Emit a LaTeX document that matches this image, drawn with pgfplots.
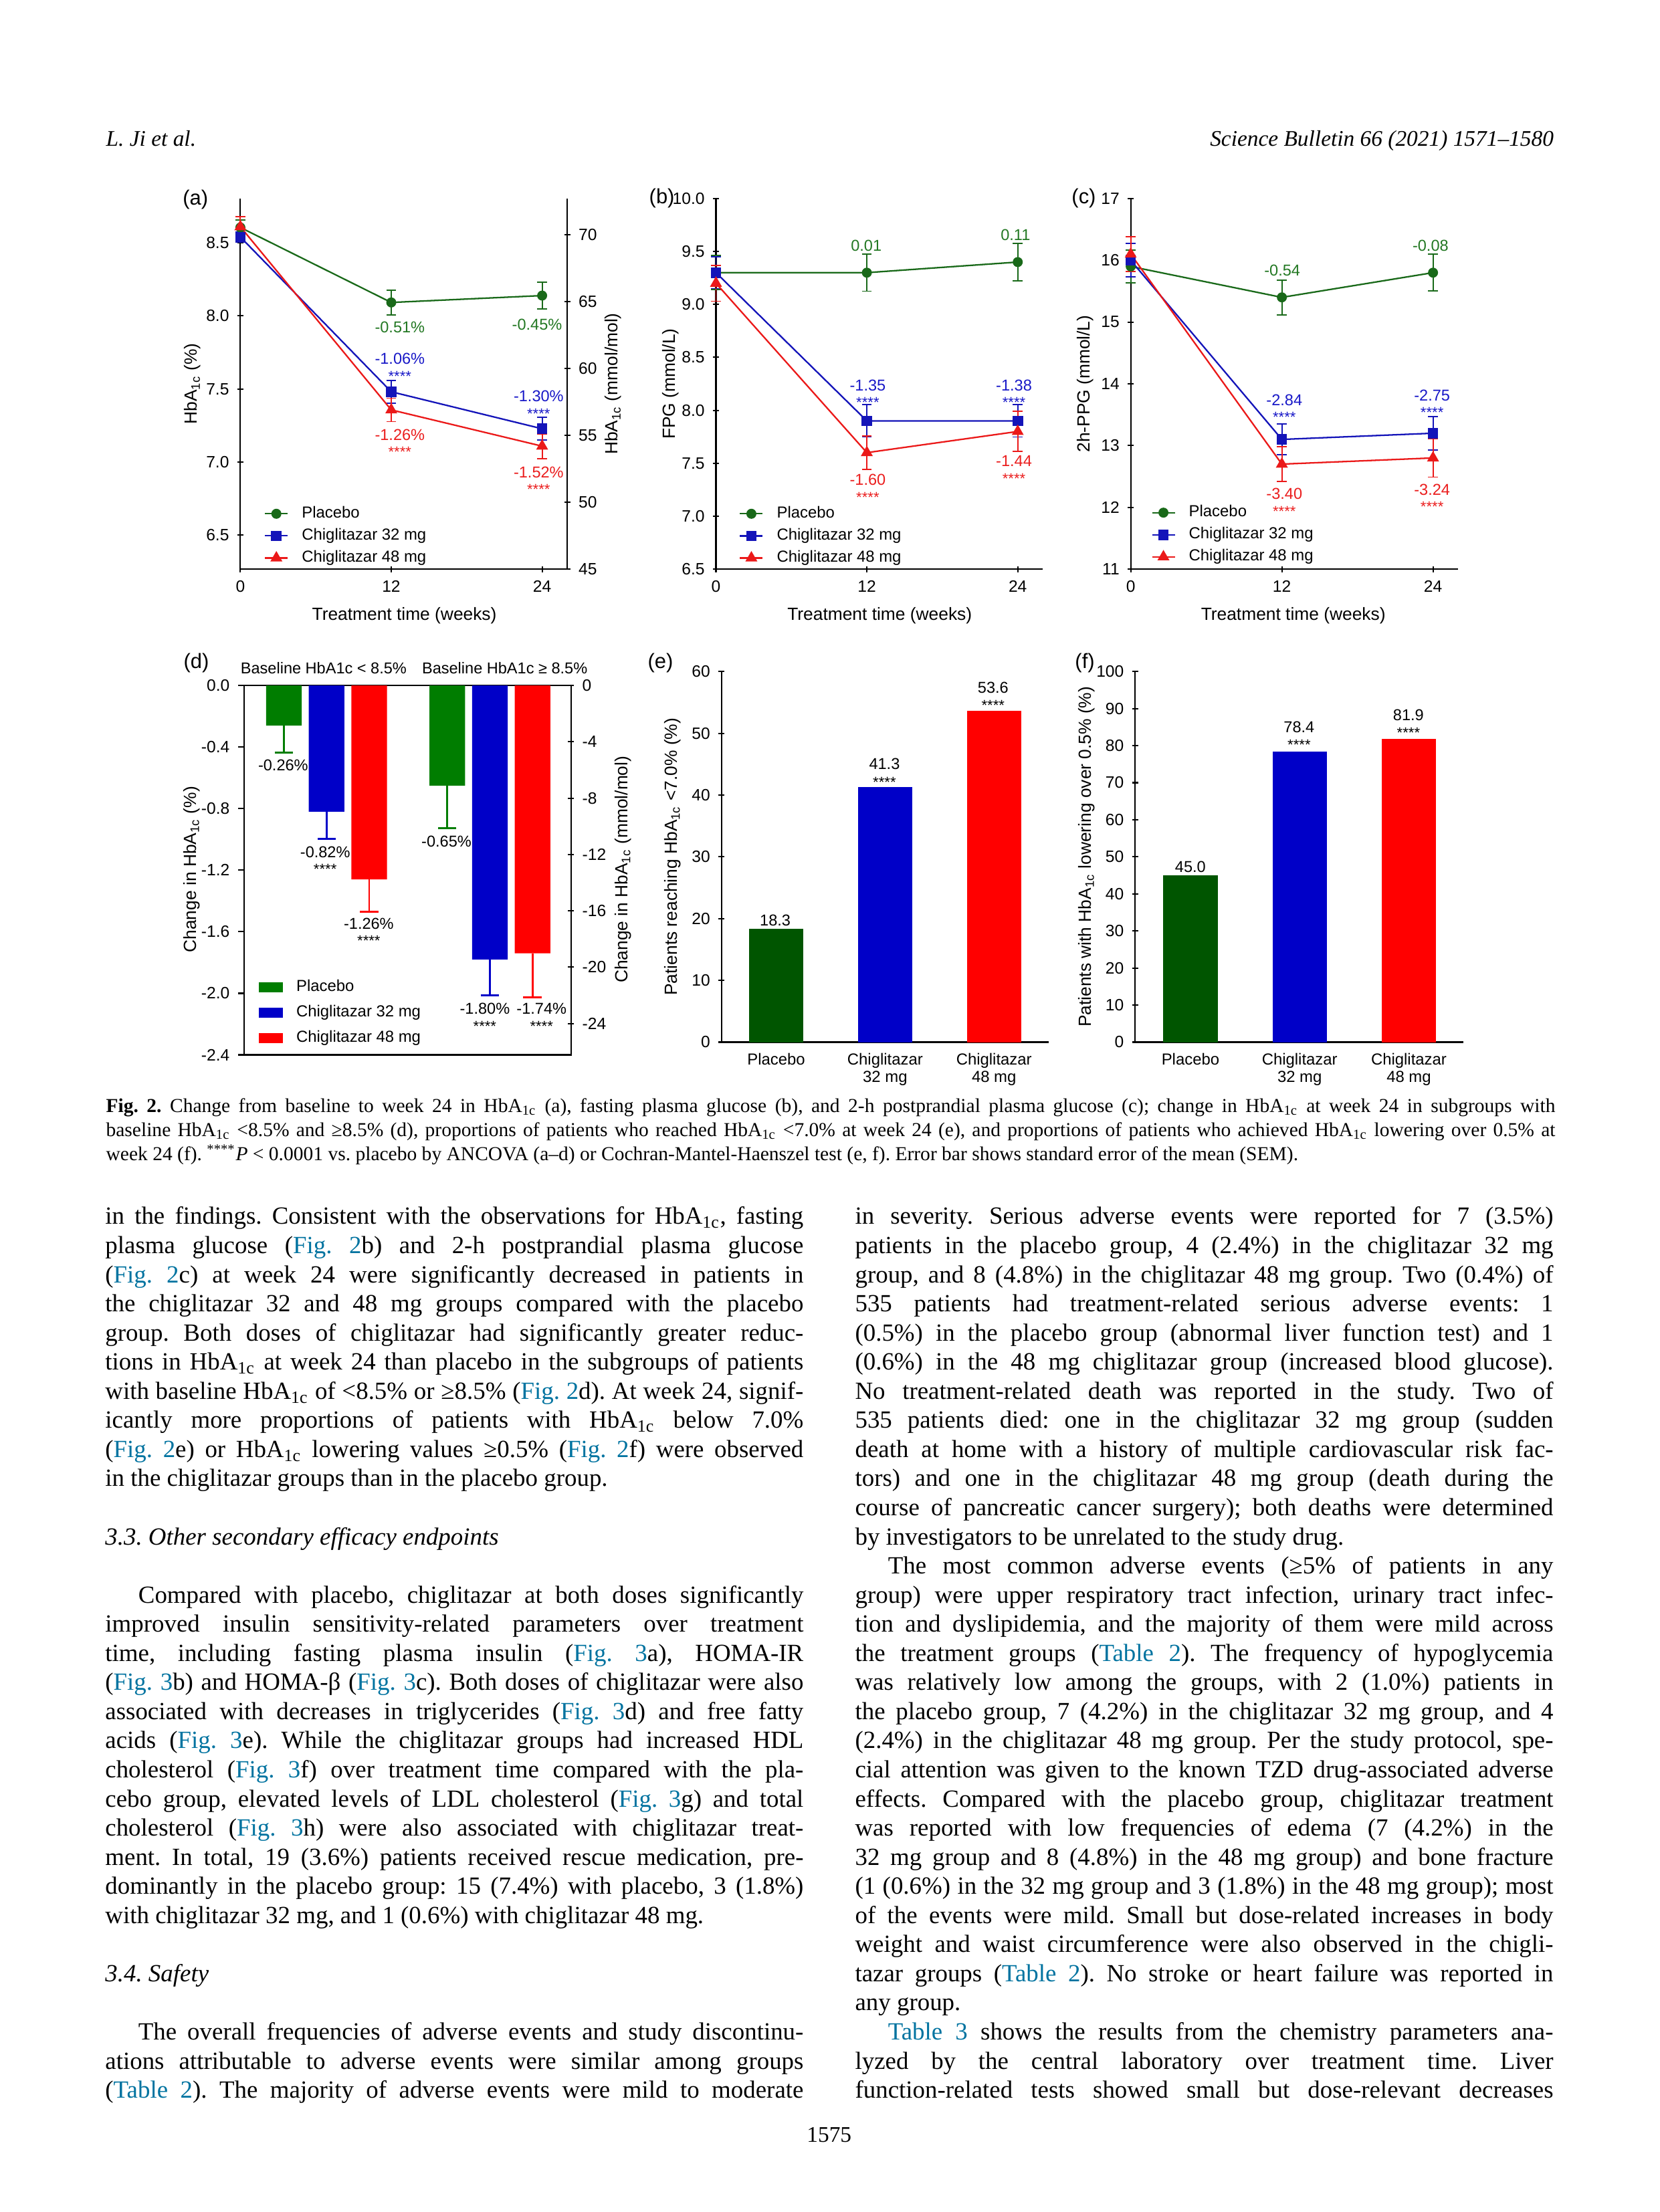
\documentclass[border=0pt]{standalone}
\usepackage{fontspec}
\setmainfont{Liberation Sans}
\newfontfamily\bodyfont{Liberation Serif}
\usepackage{pgfplots}
\pgfplotsset{compat=1.18}

\definecolor{lgreen}{RGB}{25,105,25}
\definecolor{lblue}{RGB}{20,20,185}
\definecolor{lred}{RGB}{235,25,25}
\definecolor{tgreen}{RGB}{35,120,35}
\definecolor{tblue}{RGB}{25,25,200}
\definecolor{tred}{RGB}{235,30,30}
\definecolor{dgreen}{RGB}{0,125,0}
\definecolor{bgreen}{RGB}{0,85,0}
\definecolor{bblue}{RGB}{0,0,200}
\definecolor{bred}{RGB}{255,0,0}
\definecolor{linkc}{RGB}{0,115,160}

\newcommand\ann{\fontsize{6.7}{8}\selectfont}
\newcommand\stars{\fontsize{6.3}{7}\selectfont}
\newcommand\albl{\fontsize{7.5}{9}\selectfont}
\newcommand\plet{\fontsize{8.8}{10}\selectfont}
\newcommand\bodyset{\bodyfont\fontsize{10.5}{12.6}\selectfont\frenchspacing\spaceskip=0.25em plus 2em minus 0.1em\relax}
\newcommand\capset{\bodyfont\fontsize{8.4}{10}\selectfont\frenchspacing\spaceskip=0.25em plus 2em minus 0.1em\relax}
\newcommand\lk[1]{\textcolor{linkc}{#1}}
\newcommand\LJ[2]{\node[anchor=base west,inner sep=0pt] at (156.8,#1) {\bodyset\makebox[10.44cm][s]{#2}};}
\newcommand\LI[2]{\node[anchor=base west,inner sep=0pt] at (206.3,#1) {\bodyset\makebox[9.945cm][s]{#2}};}
\newcommand\LL[2]{\node[anchor=base west,inner sep=0pt] at (156.8,#1) {\bodyset #2};}
\newcommand\LH[2]{\node[anchor=base west,inner sep=0pt] at (156.8,#1) {\bodyset\itshape #2};}
\newcommand\RJ[2]{\node[anchor=base west,inner sep=0pt] at (1278.6,#1) {\bodyset\makebox[10.44cm][s]{#2}};}
\newcommand\RI[2]{\node[anchor=base west,inner sep=0pt] at (1327.8,#1) {\bodyset\makebox[9.948cm][s]{#2}};}
\newcommand\RL[2]{\node[anchor=base west,inner sep=0pt] at (1278.6,#1) {\bodyset #2};}
\newcommand\CJ[2]{\node[anchor=base west,inner sep=0pt] at (158,#1) {\capset\makebox[21.67cm][s]{#2}};}
\newcommand\CL[2]{\node[anchor=base west,inner sep=0pt] at (158,#1) {\capset #2};}

\pgfplotsset{
  noarrow/.style={axis line style={-}, every outer x axis line/.append style={-}, every outer y axis line/.append style={-}, every inner x axis line/.append style={-}, every inner y axis line/.append style={-}},
  basic/.style={scale only axis, axis line style={-,line width=0.6pt,black}, tick style={line width=0.6pt,black}, tick align=outside, major tick length=0.09cm, ticklabel style={font=\fontsize{7}{8}\selectfont}, /pgf/number format/assume math mode=true, clip=false, legend cell align=left, legend style={draw=none, fill=none, anchor=north west, inner sep=0pt, outer sep=0pt, font=\fontsize{6.8}{8}\selectfont, column sep=0.2cm, nodes={inner sep=0pt, text height=5pt, text depth=1.5pt}}},
  lineax/.style={basic, xmin=0, xmax=26, xtick={0,12,24}, axis x line=bottom, axis y line=left, noarrow, legend style={row sep=2.9pt}, legend image code/.code={\draw[mark repeat=2,mark phase=2,##1] plot coordinates {(0cm,0cm) (0.17cm,0cm) (0.34cm,0cm)};}},
  rax/.style={basic, xmin=0, xmax=26, axis x line=none, axis y line=right, noarrow},
  yfix/.style={yticklabel style={/pgf/number format/fixed,/pgf/number format/fixed zerofill,/pgf/number format/precision=1}},
  pl/.style 2 args={color=#1, line width=0.65pt, mark=#2, mark options={solid,fill=#1}, error bars/y dir=both, error bars/y explicit, error bars/error bar style={line width=0.55pt,#1}, error bars/error mark options={line width=0.55pt,#1,rotate=90,mark size=2.1pt}},
  pG/.style={pl={lgreen}{*}, mark size=1.8pt},
  pB/.style={pl={lblue}{square*}, mark size=1.9pt},
  pR/.style={pl={lred}{triangle*}, mark size=2.3pt},
  ebar/.style 2 args={ybar, bar width=#2, bar shift=0, fill=#1, draw=none, legend image code/.code={\fill[#1] (0cm,-0.0735cm) rectangle (0.363cm,0.0735cm);}, error bars/y dir=minus, error bars/y explicit, error bars/error bar style={#1,line width=0.8pt}, error bars/error mark options={#1,line width=0.8pt,rotate=90,mark size=3.9pt}},
  pbar/.style 2 args={ybar, bar width=#2, bar shift=0, fill=#1, draw=none},
}

\begin{document}
\begin{tikzpicture}
\fill[white] (0,0) rectangle (24.81,-33.08);
\path[use as bounding box] (0,0) rectangle (24.81,-33.08);

% ---------------- (a)
\begin{axis}[lineax, at={(3.594cm,-8.511cm)}, anchor=south west, width=4.888cm, height=5.542cm, ymin=6.2677, ymax=8.803, ytick={6.5,7,7.5,8,8.5}, yfix, legend style={at={(0.073,0.170)}}, noarrow]
\addplot[pG] coordinates {(0,8.605) +- (0,0.05) (12,8.092) +- (0,0.084) (24,8.139) +- (0,0.091)};
\addlegendentry{Placebo}
\addplot[pB] coordinates {(0,8.54) +- (0,0.035) (12,7.481) +- (0,0.078) (24,7.228) +- (0,0.078)};
\addlegendentry{Chiglitazar 32 mg}
\addplot[pR] coordinates {(0,8.61) +- (0,0.07) (12,7.357) +- (0,0.08) (24,7.109) +- (0,0.085)};
\addlegendentry{Chiglitazar 48 mg}
\end{axis}
\begin{axis}[rax, at={(3.594cm,-8.511cm)}, anchor=south west, width=4.888cm, height=5.542cm, ymin=45, ymax=72.71, ytick={45,50,55,60,65,70}, noarrow]
\addplot[draw=none] coordinates {(0,50)};
\end{axis}

% ---------------- (b)
\begin{axis}[lineax, at={(10.705cm,-8.511cm)}, anchor=south west, width=4.888cm, height=5.542cm, ymin=6.5, ymax=10, ytick={6.5,7,7.5,8,8.5,9,9.5,10}, yfix, legend style={at={(0.0712,0.170)}}, noarrow]
\addplot[pG] coordinates {(0,9.3) +- (0,0.16) (12,9.3) +- (0,0.175) (24,9.4) +- (0,0.175)};
\addlegendentry{Placebo}
\addplot[pB] coordinates {(0,9.3) +- (0,0.15) (12,7.9) +- (0,0.152) (24,7.9) +- (0,0.152)};
\addlegendentry{Chiglitazar 32 mg}
\addplot[pR] coordinates {(0,9.2) +- (0,0.17) (12,7.6) +- (0,0.16) (24,7.8) +- (0,0.19)};
\addlegendentry{Chiglitazar 48 mg}
\end{axis}

% ---------------- (c)
\begin{axis}[lineax, at={(16.906cm,-8.511cm)}, anchor=south west, width=4.897cm, height=5.542cm, ymin=11, ymax=17, ytick={11,12,13,14,15,16,17}, legend style={at={(0.0629,0.173)}}, noarrow]
\addplot[pG] coordinates {(0,15.9) +- (0,0.27) (12,15.4) +- (0,0.28) (24,15.8) +- (0,0.3)};
\addlegendentry{Placebo}
\addplot[pB] coordinates {(0,16.0) +- (0,0.27) (12,13.1) +- (0,0.25) (24,13.2) +- (0,0.27)};
\addlegendentry{Chiglitazar 32 mg}
\addplot[pR] coordinates {(0,16.1) +- (0,0.28) (12,12.7) +- (0,0.28) (24,12.8) +- (0,0.31)};
\addlegendentry{Chiglitazar 48 mg}
\end{axis}

% ---------------- (d)
\begin{axis}[basic, at={(3.648cm,-15.775cm)}, anchor=south west, width=4.89cm, height=5.523cm, xmin=0.063, xmax=7.738, ymin=-2.4, ymax=0, xtick=\empty, ytick={0,-0.4,-0.8,-1.2,-1.6,-2,-2.4}, ytick pos=left, yfix, legend style={at={(0.045,0.204)}, row sep=4.3pt}]
\addplot[ebar={dgreen}{0.837}] coordinates {(1,-0.26) +- (0,0.175) (4.834,-0.65) +- (0,0.277)};
\addlegendentry{Placebo}
\addplot[ebar={bblue}{0.837}] coordinates {(2,-0.82) +- (0,0.177) (5.834,-1.78) +- (0,0.234)};
\addlegendentry{Chiglitazar 32 mg}
\addplot[ebar={bred}{0.837}] coordinates {(3,-1.26) +- (0,0.209) (6.834,-1.74) +- (0,0.287)};
\addlegendentry{Chiglitazar 48 mg}
\end{axis}
\begin{axis}[basic, at={(3.648cm,-15.775cm)}, anchor=south west, width=4.89cm, height=5.523cm, xmin=0.063, xmax=7.738, axis x line=none, axis y line=right, noarrow, ymin=-26.23, ymax=0, ytick={0,-4,-8,-12,-16,-20,-24}]
\addplot[draw=none] coordinates {(1,-1)};
\end{axis}

% ---------------- (e)
\begin{axis}[basic, at={(10.786cm,-15.585cm)}, anchor=south west, width=4.897cm, height=5.543cm, xmin=0.497, xmax=3.504, ymin=0, ymax=60, axis x line=bottom, axis y line=left, noarrow, ytick={0,10,20,30,40,50,60}, xtick={1,2,3}, xticklabels={Placebo,{Chiglitazar\\32 mg},{Chiglitazar\\48 mg}}, xtick style={draw=none}, xticklabel style={align=center, font=\fontsize{6.8}{7.4}\selectfont}]
\addplot[pbar={bgreen}{0.496}] coordinates {(1,18.3)};
\addplot[pbar={bblue}{0.496}] coordinates {(2,41.3)};
\addplot[pbar={bred}{0.496}] coordinates {(3,53.6)};
\end{axis}

% ---------------- (f)
\begin{axis}[basic, at={(16.972cm,-15.585cm)}, anchor=south west, width=4.912cm, height=5.543cm, xmin=0.493, xmax=3.502, ymin=0, ymax=100, axis x line=bottom, axis y line=left, noarrow, ytick={0,10,20,30,40,50,60,70,80,90,100}, xtick={1,2,3}, xticklabels={Placebo,{Chiglitazar\\32 mg},{Chiglitazar\\48 mg}}, xtick style={draw=none}, xticklabel style={align=center, font=\fontsize{6.8}{7.4}\selectfont}]
\addplot[pbar={bgreen}{0.498}] coordinates {(1,45.0)};
\addplot[pbar={bblue}{0.498}] coordinates {(2,78.4)};
\addplot[pbar={bred}{0.498}] coordinates {(3,81.9)};
\end{axis}

\begin{scope}[x=0.01cm,y=-0.01cm]
% panel letters
\node[font=\plet] at (292.4,298.2) {(a)};
\node[font=\plet] at (990.2,296.9) {(b)};
\node[font=\plet] at (1621.4,296.9) {(c)};
\node[font=\plet] at (293.6,991.6) {(d)};
\node[font=\plet] at (988,991.6) {(e)};
\node[font=\plet] at (1623,991.6) {(f)};
% axis labels
\node[font=\albl,rotate=90] at (288,574.4) {HbA\textsubscript{1c} (\%)};
\node[font=\albl,rotate=90] at (917.4,574.4) {HbA\textsubscript{1c} (mmol/mol)};
\node[font=\albl] at (604.9,921.4) {Treatment time (weeks)};
\node[font=\albl,rotate=90] at (1003.6,574.4) {FPG (mmol/L)};
\node[font=\albl] at (1316,921.4) {Treatment time (weeks)};
\node[font=\albl,rotate=90] at (1623.2,574.4) {2h-PPG (mmol/L)};
\node[font=\albl] at (1934.8,921.4) {Treatment time (weeks)};
\node[font=\albl,rotate=90] at (286.7,1301) {Change in HbA\textsubscript{1c} (\%)};
\node[font=\albl,rotate=90] at (931.9,1301) {Change in HbA\textsubscript{1c} (mmol/mol)};
\node[font=\albl,rotate=90] at (1005.8,1282) {Patients reaching HbA\textsubscript{1c} <7.0\% (\%)};
\node[font=\albl,rotate=90] at (1625.4,1282) {Patients with HbA\textsubscript{1c} lowering over 0.5\% (\%)};
% (a) annotations
\node[text=tgreen,font=\ann] at (598.2,489.9) {-0.51\%};
\node[text=tgreen,font=\ann] at (803.5,485.5) {-0.45\%};
\node[text=tblue,font=\ann] at (598.2,536.3) {-1.06\%};
\node[text=tblue,font=\stars] at (598.2,563) {****};
\node[text=tblue,font=\ann] at (805.8,593.1) {-1.30\%};
\node[text=tblue,font=\stars] at (805.8,619.5) {****};
\node[text=tred,font=\ann] at (598.2,650.3) {-1.26\%};
\node[text=tred,font=\stars] at (598.2,676) {****};
\node[text=tred,font=\ann] at (805.8,706.7) {-1.52\%};
\node[text=tred,font=\stars] at (805.8,732.4) {****};
% (b)
\node[text=tgreen,font=\ann] at (1296,367.6) {0.01};
\node[text=tgreen,font=\ann] at (1519.2,351.9) {0.11};
\node[text=tblue,font=\ann] at (1298.2,576.6) {-1.35};
\node[text=tblue,font=\stars] at (1298.2,602.3) {****};
\node[text=tblue,font=\ann] at (1516.9,576.6) {-1.38};
\node[text=tblue,font=\stars] at (1516.9,602.3) {****};
\node[text=tred,font=\ann] at (1298.2,717.5) {-1.60};
\node[text=tred,font=\stars] at (1298.2,744.1) {****};
\node[text=tred,font=\ann] at (1516.9,690.2) {-1.44};
\node[text=tred,font=\stars] at (1516.9,716.3) {****};
% (c)
\node[text=tgreen,font=\ann] at (1918.3,404.4) {-0.54};
\node[text=tgreen,font=\ann] at (2140.1,367.6) {-0.08};
\node[text=tblue,font=\ann] at (1921.4,598.3) {-2.84};
\node[text=tblue,font=\stars] at (1921.4,624) {****};
\node[text=tblue,font=\ann] at (2142.4,591.8) {-2.75};
\node[text=tblue,font=\stars] at (2142.4,617.5) {****};
\node[text=tred,font=\ann] at (1921.4,739.2) {-3.40};
\node[text=tred,font=\stars] at (1921.4,765.8) {****};
\node[text=tred,font=\ann] at (2142.4,732.7) {-3.24};
\node[text=tred,font=\stars] at (2142.4,758.4) {****};
% (d)
\node[font=\ann] at (484.2,1000) {Baseline HbA1c < 8.5\%};
\node[font=\ann] at (755.1,1000) {Baseline HbA1c ≥ 8.5\%};
\node[font=\ann] at (423.6,1145.2) {-0.26\%};
\node[font=\ann] at (486.5,1274.8) {-0.82\%};
\node[font=\stars] at (486.5,1300.7) {****};
\node[font=\ann] at (551.7,1382.2) {-1.26\%};
\node[font=\stars] at (551.7,1408) {****};
\node[font=\ann] at (667.9,1258.8) {-0.65\%};
\node[font=\ann] at (725.3,1509.3) {-1.80\%};
\node[font=\stars] at (725.3,1535.6) {****};
\node[font=\ann] at (810.2,1509.3) {-1.74\%};
\node[font=\stars] at (810.2,1535.6) {****};
% (e)
\node[font=\ann] at (1159.8,1376.7) {18.3};
\node[font=\ann] at (1323.2,1143.1) {41.3};
\node[font=\stars] at (1323.2,1170.2) {****};
\node[font=\ann] at (1485.7,1028.6) {53.6};
\node[font=\stars] at (1485.7,1055.3) {****};
% (f)
\node[font=\ann] at (1780.9,1296.7) {45.0};
\node[font=\ann] at (1943.5,1088.4) {78.4};
\node[font=\stars] at (1943.5,1114.7) {****};
\node[font=\ann] at (2107.1,1070.3) {81.9};
\node[font=\stars] at (2107.1,1096.6) {****};

% header and page number
\node[anchor=base west,inner sep=0pt] at (158,219) {\bodyfont\itshape\fontsize{9.5}{11}\selectfont L. Ji et al.};
\node[anchor=base east,inner sep=0pt] at (2325,219) {\bodyfont\itshape\fontsize{9.5}{11}\selectfont Science Bulletin 66 (2021) 1571–1580};
\node[anchor=base,inner sep=0pt] at (1240.5,3205) {\bodyfont\fontsize{9.5}{11}\selectfont 1575};

% caption
\CJ{1664.6}{\textbf{Fig. 2.} Change from baseline to week 24 in HbA\textsubscript{1c} (a), fasting plasma glucose (b), and 2-h postprandial plasma glucose (c); change in HbA\textsubscript{1c} at week 24 in subgroups with}
\CJ{1700.6}{baseline HbA\textsubscript{1c} <8.5\% and ≥8.5\% (d), proportions of patients who reached HbA\textsubscript{1c} <7.0\% at week 24 (e), and proportions of patients who achieved HbA\textsubscript{1c} lowering over 0.5\% at}
\CL{1736.6}{week 24 (f). \textsuperscript{****}\textit{P} < 0.0001 vs. placebo by ANCOVA (a–d) or Cochran-Mantel-Haenszel test (e, f). Error bar shows standard error of the mean (SEM).}

% left column
\LJ{1832.0}{in the findings. Consistent with the observations for HbA\textsubscript{1c}, fasting}
\LJ{1875.6}{plasma glucose (\lk{Fig. 2}b) and 2-h postprandial plasma glucose}
\LJ{1919.2}{(\lk{Fig. 2}c) at week 24 were significantly decreased in patients in}
\LJ{1962.7}{the chiglitazar 32 and 48 mg groups compared with the placebo}
\LJ{2006.3}{group. Both doses of chiglitazar had significantly greater reduc-}
\LJ{2049.9}{tions in HbA\textsubscript{1c} at week 24 than placebo in the subgroups of patients}
\LJ{2093.5}{with baseline HbA\textsubscript{1c} of <8.5\% or ≥8.5\% (\lk{Fig. 2}d). At week 24, signif-}
\LJ{2137.1}{icantly more proportions of patients with HbA\textsubscript{1c} below 7.0\%}
\LJ{2180.6}{(\lk{Fig. 2}e) or HbA\textsubscript{1c} lowering values ≥0.5\% (\lk{Fig. 2}f) were observed}
\LL{2224.2}{in the chiglitazar groups than in the placebo group.}
\LH{2311.4}{3.3. Other secondary efficacy endpoints}
\LI{2398.5}{Compared with placebo, chiglitazar at both doses significantly}
\LJ{2442.1}{improved insulin sensitivity-related parameters over treatment}
\LJ{2485.7}{time, including fasting plasma insulin (\lk{Fig. 3}a), HOMA-IR}
\LJ{2529.3}{(\lk{Fig. 3}b) and HOMA-β (\lk{Fig. 3}c). Both doses of chiglitazar were also}
\LJ{2572.9}{associated with decreases in triglycerides (\lk{Fig. 3}d) and free fatty}
\LJ{2616.4}{acids (\lk{Fig. 3}e). While the chiglitazar groups had increased HDL}
\LJ{2660.0}{cholesterol (\lk{Fig. 3}f) over treatment time compared with the pla-}
\LJ{2703.6}{cebo group, elevated levels of LDL cholesterol (\lk{Fig. 3}g) and total}
\LJ{2747.2}{cholesterol (\lk{Fig. 3}h) were also associated with chiglitazar treat-}
\LJ{2790.8}{ment. In total, 19 (3.6\%) patients received rescue medication, pre-}
\LJ{2834.3}{dominantly in the placebo group: 15 (7.4\%) with placebo, 3 (1.8\%)}
\LL{2877.9}{with chiglitazar 32 mg, and 1 (0.6\%) with chiglitazar 48 mg.}
\LH{2965.1}{3.4. Safety}
\LI{3052.2}{The overall frequencies of adverse events and study discontinu-}
\LJ{3095.8}{ations attributable to adverse events were similar among groups}
\LJ{3139.4}{(\lk{Table 2}). The majority of adverse events were mild to moderate}

% right column
\RJ{1832.0}{in severity. Serious adverse events were reported for 7 (3.5\%)}
\RJ{1875.6}{patients in the placebo group, 4 (2.4\%) in the chiglitazar 32 mg}
\RJ{1919.2}{group, and 8 (4.8\%) in the chiglitazar 48 mg group. Two (0.4\%) of}
\RJ{1962.7}{535 patients had treatment-related serious adverse events: 1}
\RJ{2006.3}{(0.5\%) in the placebo group (abnormal liver function test) and 1}
\RJ{2049.9}{(0.6\%) in the 48 mg chiglitazar group (increased blood glucose).}
\RJ{2093.5}{No treatment-related death was reported in the study. Two of}
\RJ{2137.1}{535 patients died: one in the chiglitazar 32 mg group (sudden}
\RJ{2180.6}{death at home with a history of multiple cardiovascular risk fac-}
\RJ{2224.2}{tors) and one in the chiglitazar 48 mg group (death during the}
\RJ{2267.8}{course of pancreatic cancer surgery); both deaths were determined}
\RL{2311.4}{by investigators to be unrelated to the study drug.}
\RI{2355.0}{The most common adverse events (≥5\% of patients in any}
\RJ{2398.5}{group) were upper respiratory tract infection, urinary tract infec-}
\RJ{2442.1}{tion and dyslipidemia, and the majority of them were mild across}
\RJ{2485.7}{the treatment groups (\lk{Table 2}). The frequency of hypoglycemia}
\RJ{2529.3}{was relatively low among the groups, with 2 (1.0\%) patients in}
\RJ{2572.9}{the placebo group, 7 (4.2\%) in the chiglitazar 32 mg group, and 4}
\RJ{2616.4}{(2.4\%) in the chiglitazar 48 mg group. Per the study protocol, spe-}
\RJ{2660.0}{cial attention was given to the known TZD drug-associated adverse}
\RJ{2703.6}{effects. Compared with the placebo group, chiglitazar treatment}
\RJ{2747.2}{was reported with low frequencies of edema (7 (4.2\%) in the}
\RJ{2790.8}{32 mg group and 8 (4.8\%) in the 48 mg group) and bone fracture}
\RJ{2834.3}{(1 (0.6\%) in the 32 mg group and 3 (1.8\%) in the 48 mg group); most}
\RJ{2877.9}{of the events were mild. Small but dose-related increases in body}
\RJ{2921.5}{weight and waist circumference were also observed in the chigli-}
\RJ{2965.1}{tazar groups (\lk{Table 2}). No stroke or heart failure was reported in}
\RL{3008.7}{any group.}
\RI{3052.2}{\lk{Table 3} shows the results from the chemistry parameters ana-}
\RJ{3095.8}{lyzed by the central laboratory over treatment time. Liver}
\RJ{3139.4}{function-related tests showed small but dose-relevant decreases}
\end{scope}
\end{tikzpicture}
\end{document}
